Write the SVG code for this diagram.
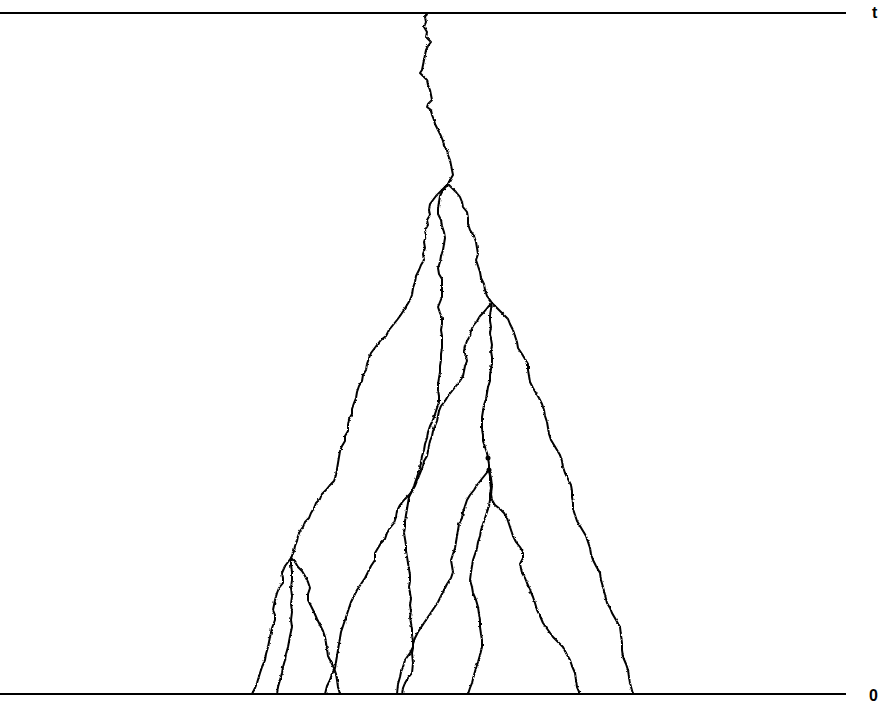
<svg xmlns="http://www.w3.org/2000/svg" width="887" height="703" viewBox="0 0 887 703">
<style>
.ax{stroke:#000;stroke-width:2;fill:none}
.br{stroke:#000;stroke-width:2;fill:none;stroke-linejoin:round;stroke-linecap:round}
.lab{font-family:"Liberation Sans",Arial,sans-serif;font-weight:bold;font-size:16px;fill:#000}
.dot{fill:#000}
</style>
<defs>
<filter id="jag" x="-5%" y="-5%" width="110%" height="110%">
<feTurbulence type="fractalNoise" baseFrequency="0.35" numOctaves="2" seed="3" result="n"/>
<feDisplacementMap in="SourceGraphic" in2="n" scale="2.5" xChannelSelector="R" yChannelSelector="G"/>
</filter>
</defs>
<rect width="887" height="703" fill="#fff"/>
<g id="axes">
<line class="ax" x1="0" y1="13" x2="846" y2="13"/>
<line class="ax" x1="0" y1="694" x2="846" y2="694"/>
<text class="lab" x="872" y="18">t</text>
<text class="lab" x="869" y="701">0</text>
</g>
<g id="branches" filter="url(#jag)">
<path id="root" class="br" d="M427,13 L425,17 426,22 424,27 427,32 426,37 431,42 428,46 426,50 425,55 424,60 423,65 422,70 420,73 423,76 427,80 428,85 430,90 431,95 432,100 428,104 427,107 431,110 432,115 434,120 435,124 437,128 439,132 441,136 443,141 444,146 447,150 448,155 450,160 451,165 452,170 453,175 450,180 448,184"/>
<path id="l1" class="br" d="M448,184 L444,188 440,192 436,196 433,200 430,204 429,210 430,215 427,220 428,225 425,230 426,236 424,242 425,248 423,254 424,260 421,265 419,270 416,276 415,282 413,288 412,295 410,300 407,305 404,310 400,316 397,320 393,325 389,330 386,336 381,340 377,345 374,349 371,353 369,358 367,364 366,370 363,375 362,381 359,386 357,392 356,398 354,403 352,409 352,414 349,419 348,425 348,431 345,436 345,441 342,446 340,451 339,457 338,463 337,469 336,475 334,481 330,485 326,490 322,494 320,499 316,503 314,508 311,513 309,518 305,522 303,527 300,531 298,536 297,541 295,546 294,551 291,558"/>
<path id="n2a" class="br" d="M291,558 L288,562 285,566 282,573 283,578 283,583 279,588 277,593 275,600 273,610 275,615 275,620 272,628 270,637 269,642 268,647 266,654 265,660 262,667 260,673 257,683 255,688 252,694"/>
<path id="n2b" class="br" d="M291,558 L291,565 292,572 292,580 291,588 292,596 291,604 292,612 291,620 292,627 290,636 288,647 286,654 285,660 283,667 282,673 280,680 278,687 277,694"/>
<path id="n2c" class="br" d="M291,558 L295,562 298,567 302,571 305,576 308,582 310,588 308,594 308,600 311,606 314,612 317,619 320,625 323,631 325,637 326,643 327,649 328,656 331,662 334,668 336,674 337,680 338,687 340,694"/>
<path id="m" class="br" d="M448,184 L443,190 440,196 439,202 438,208 438,214 441,220 442,226 444,232 445,238 444,244 443,250 441,256 440,262 438,268 439,274 442,279 442,285 442,291 442,297 440,302 438,307 440,313 442,318 442,324 441,330 442,336 442,342 442,348 441,354 441,360 440,366 440,372 439,378 438,384 438,390 439,396 439,402 437,408 435,414 433,420 430,426 428,432 427,438 425,444 424,450 422,456 421,462 420,468 418,474 416,480 414,486 412,491 409,497 408,503 407,509 406,515 405,521 405,527 404,533 405,539 406,545 406,551 407,557 408,563 409,569 410,575 410,581 409,587 410,593 411,599 410,605 411,611 410,617 411,623 412,629 412,635 413,641 413,647 410,653 405,660 403,667 401,672 400,677 398,684 397,694"/>
<path id="n1r" class="br" d="M448,184 L452,188 456,192 460,197 462,202 463,207 467,212 468,218 468,224 470,230 474,236 476,242 477,248 478,254 476,260 478,266 480,272 481,278 484,284 485,290 487,296 490,300 492,303"/>
<path id="n3a" class="br" d="M492,303 L488,307 484,312 480,316 477,321 473,326 471,331 470,336 467,341 465,346 464,351 466,356 467,361 465,366 464,371 463,376 460,381 456,386 452,391 448,396 445,401 441,406 439,411 438,416 437,421 435,426 433,431 432,436 430,441 429,446 428,451 427,456 424,461 423,466 421,471 419,476 417,481 415,486 412,491 409,495 404,500 400,505 397,511 396,517 394,523 390,528 387,533 385,539 381,543 378,548 375,553 375,560 371,566 368,572 365,578 361,584 357,590 354,596 351,602 349,608 347,614 345,620 343,626 341,632 340,638 339,644 338,650 337,656 336,662 335,668 332,674 330,680 327,686 325,694"/>
<path id="n3b" class="br" d="M492,303 L491,309 490,315 490,321 491,327 490,333 491,339 492,345 491,351 492,357 492,363 491,369 490,375 490,381 488,387 487,393 486,399 484,405 483,411 482,417 482,423 482,429 483,435 483,441 485,447 487,453 488,458 489,464 489,470"/>
<path id="n4a" class="br" d="M489,470 L485,475 481,480 477,485 474,490 470,495 467,500 465,506 463,512 462,518 459,524 458,530 457,536 456,542 455,548 453,554 451,560 452,566 453,572 451,578 447,584 444,590 441,596 438,602 434,608 430,614 426,620 422,626 418,632 415,638 413,644 413,648 412,653 413,663 412,673 408,678 405,683 403,688 402,694"/>
<path id="n4b" class="br" d="M489,470 L490,476 490,482 491,488 490,494 490,500 489,506 487,512 485,518 483,524 481,530 480,536 478,542 477,548 475,554 473,560 472,566 471,572 470,580 472,587 473,593 476,600 478,607 479,614 480,620 480,627 481,634 482,640 482,647 480,655 478,662 476,668 474,675 472,683 470,688 468,694"/>
<path id="n4c" class="br" d="M489,470 L491,478 492,486 491,494 492,500 495,505 500,509 504,513 507,518 509,524 511,530 513,536 516,542 520,547 523,552 523,558 520,564 522,573 525,578 527,583 530,590 533,597 535,603 537,610 540,616 543,623 548,630 553,637 558,642 563,647 566,653 570,660 572,666 575,673 576,680 577,687 580,694"/>
<path id="n3c" class="br" d="M492,303 L496,307 500,311 504,315 508,319 510,324 513,330 515,336 517,342 518,348 522,354 525,359 528,364 528,370 529,376 530,382 533,388 536,393 539,398 542,404 544,410 545,416 547,422 548,428 549,434 551,440 554,445 557,450 560,455 562,461 563,467 565,473 568,479 571,485 572,491 572,497 573,503 573,509 575,515 577,521 580,526 583,531 586,536 588,542 590,548 591,554 593,560 596,566 600,573 601,580 603,587 605,595 607,603 610,608 612,613 616,620 620,627 621,635 622,643 622,650 623,657 626,664 628,670 629,677 630,683 633,694"/>
</g>
<g id="nodes">
<circle class="dot" cx="488" cy="458" r="2.5"/>
<circle class="dot" cx="489" cy="470" r="2.5"/>
</g>
</svg>
